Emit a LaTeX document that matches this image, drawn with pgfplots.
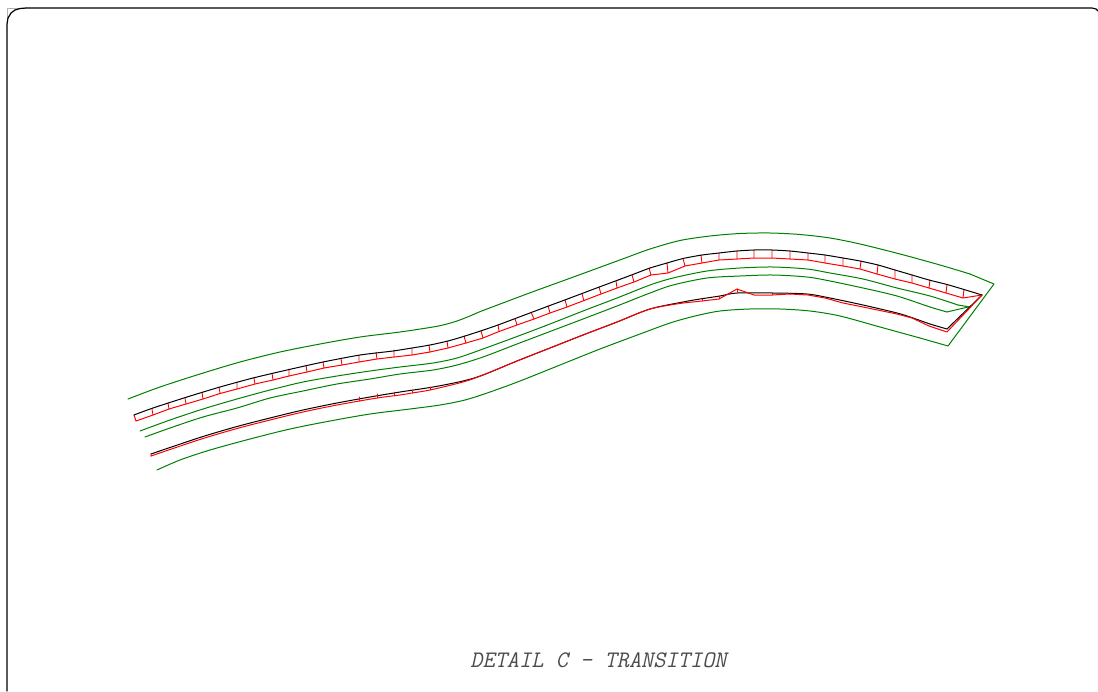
\documentclass[border=0pt]{standalone}
\usepackage{fontspec}
\newfontfamily\detailfont[FakeSlant=0.22]{Latin Modern Mono}
\usepackage{pgfplots}
\pgfplotsset{compat=1.18}
\definecolor{dgreen}{RGB}{0,128,0}
\begin{document}
\begin{tikzpicture}
\begin{axis}[
  scale only axis, width=1098pt, height=691pt,
  xmin=0, xmax=1098, ymin=0, ymax=691, y dir=reverse,
  hide axis, unbounded coords=jump,
  every axis plot/.append style={no marks, line join=round, line cap=round},
]
\path (axis cs:0,0) rectangle (axis cs:1098,691);
% frame
\addplot[gray!60, line width=0.8pt] coordinates {(7,24) (7,8) (26,8)};
\addplot[black, line width=1.2pt] coordinates {(7,691) (7,24) (8,18) (11,13) (15,10) (20,8.5) (26,8) (1092,8) (1096,9) (1098,11)};
% green outline
\addplot[dgreen, line width=1pt, smooth, tension=0.5] coordinates {
(128,399) (160,387) (200,374) (240,362) (280,352) (320,344) (360,337) (400,332) (433,327) (445,324.5) (457,321) (470,316) (483,310.5) (533,291.7) (577,275.7) (622,259.2) (650,249) (680,240.5) (710,236) (740,233.5) (770,233) (800,234.5) (830,238) (860,244) (900,254) (940,265) (970,274)};
\addplot[dgreen, line width=1pt] coordinates {(970,274) (994,284) (948,346) (920,338)};
\addplot[dgreen, line width=1pt, smooth, tension=0.5] coordinates {
(920,338) (880,327) (840,316) (810,311) (780,309) (750,309) (720,311) (695,316) (670,323) (640,334) (600,349) (560,365) (520,381) (490,392) (465,400) (440,405) (410,409) (370,414) (330,421) (290,429) (250,439) (210,450) (180,460) (157,470)};
\addplot[dgreen, line width=1pt, smooth, tension=0.5] coordinates {
(140,431) (170,420) (203,409) (237,399) (270,390) (303,382) (337,376) (370,371) (400,367) (433,363) (457,358) (483,349) (517,336.5) (550,324) (583,311) (617,298) (650,285) (673,278) (707,271) (740,268) (773,267) (807,269) (830,273) (863,279) (897,288) (930,296) (958,305)};
\addplot[dgreen, line width=1pt] coordinates {(958,305) (970,307)};
\addplot[dgreen, line width=1pt, smooth, tension=0.5] coordinates {
(145,437) (170,428) (203,417) (237,408) (270,398) (303,391) (337,384) (370,379) (400,374) (433,370) (457,365) (483,357) (517,344) (550,331.5) (583,319) (617,306) (650,293) (673,285) (707,278) (740,276) (773,275) (807,277) (830,281) (863,288) (897,296) (930,307) (947,312)};
\addplot[dgreen, line width=1pt] coordinates {(947,312) (968,307)};
% upper strip: red side and ticks
\addplot[red, line width=1pt] coordinates {
(134,415) (136,421) (153,415) (169,409) (186,404) (203,399) (220,393.5) (237,389) (255,384) (273,380) (289,376) (307,372) (324,368) (342,365) (359,362) (377,359) (394,357) (412,355) (430,352) (448,348) (466,343) (483,338) (499,331.5) (517,325) (534,319) (550,313) (567,307) (584,300.5) (601,294) (617,288) (634,282) (651,275) (668,273) (685,266) (702,263) (719,260) (737,259) (754,258) (772,258) (790,259) (808,260) (825,263) (843,266) (860,269) (877,274) (895,279) (912,283) (929,288) (946,293) (963,298) (982,295)};
\addplot[red, line width=0.9pt] coordinates {
(152,409) (153,415) (nan,nan) (168,403) (169,409) (nan,nan) (185,398) (186,404) (nan,nan) (202,392) (203,399) (nan,nan) (219,387) (220,393) (nan,nan) (237,382) (237,389) (nan,nan) (254,378) (255,384) (nan,nan) (272,373) (273,380) (nan,nan) (289,369) (289,376) (nan,nan) (306,365) (307,372) (nan,nan) (323,362) (324,368) (nan,nan) (341,358) (342,365) (nan,nan) (359,355) (359,362) (nan,nan) (376,352) (377,359) (nan,nan) (394,350) (394,357) (nan,nan) (412,348) (412,355) (nan,nan) (429,345) (430,352) (nan,nan) (447,341) (448,348) (nan,nan) (464,336) (466,343) (nan,nan) (481,331) (483,338) (nan,nan) (498,325) (499,331) (nan,nan) (515,318.6) (517,325) (nan,nan) (531,312) (534,319) (nan,nan) (548,306) (550,313) (nan,nan) (565,300) (567,307) (nan,nan) (582,293.5) (584,301) (nan,nan) (599,287) (601,294) (nan,nan) (616,281) (617,288) (nan,nan) (632,275) (634,282) (nan,nan) (649,268) (651,275) (nan,nan) (667,263) (668,273) (nan,nan) (683,258.5) (685,266) (nan,nan) (701,255) (702,263) (nan,nan) (719,253) (719,260) (nan,nan) (737,251) (737,259) (nan,nan) (754,250) (754,258) (nan,nan) (772,250) (772,258) (nan,nan) (790,251) (790,259) (nan,nan) (808,253) (808,260) (nan,nan) (825,255) (825,263) (nan,nan) (843,258) (843,266) (nan,nan) (861,261) (860,269) (nan,nan) (878,265) (877,274) (nan,nan) (895,270) (895,279) (nan,nan) (912,275) (912,283) (nan,nan) (930,280) (929,288) (nan,nan) (947,284.5) (946,293) (nan,nan) (964,289.5) (963,298)};
\addplot[black, line width=1pt, smooth, tension=0.4] coordinates {
(134,415) (153,408) (187,397) (220,387) (253,378) (287,370) (323,362) (360,355) (393,351) (412,348) (430,345) (448,341) (465,336) (482,330.5) (498,325) (515,318.6) (532,312.2) (548,306.2) (565,299.9) (582,293.5) (599,287.1) (616,280.8) (632,274.8) (650,268) (667,263) (683,258.5) (702,255) (719,253) (737,251) (754,250) (772,250) (790,251) (808,253) (825,255) (843,258) (860,261) (878,265) (895,270) (912,275) (929,280) (947,284.5) (964,289.5) (982,295)};
% lower strip
\addplot[black, line width=1pt, smooth, tension=0.5] coordinates {
(151,454) (170,447.5) (203,436.5) (237,426.5) (270,418) (303,410) (337,403) (370,397) (400,392) (433,387) (463,381) (483,375) (517,361) (550,348) (583,335) (617,322) (650,309) (683,302) (700,299) (720,296) (737,293) (773,293) (807,294) (830,298) (863,305) (897,313) (913,318) (930,324) (947,329)};
\addplot[black, line width=1pt] coordinates {(947,329) (982,295)};
\addplot[red, line width=1pt, smooth, tension=0.5] coordinates {
(151,456) (170,449.5) (203,438.5) (237,428.5) (270,420) (303,412) (337,405) (377,398) (400,395) (412,393) (430,390) (463,382) (483,375) (517,361) (550,348) (583,335) (617,322) (650,309) (683,303)};
\addplot[red, line width=1pt] coordinates {
(151,454) (151,456) (nan,nan) (683,303) (702,301) (719,299) (737,289) (754,295) (772,295) (790,294) (808,295) (825,298) (843,303) (863,307) (897,314) (912,318) (929,326) (947,332) (982,295)};
\addplot[red, line width=0.9pt] coordinates {
(359,397) (359,401) (nan,nan) (377,394) (377,398) (nan,nan) (394,392) (394,396) (nan,nan) (412,390) (412,393) (nan,nan) (430,387) (430,390) (nan,nan) (702,299) (702,301) (nan,nan) (719,296) (719,299) (nan,nan) (737,293) (737,289) (nan,nan) (772,293) (772,295) (nan,nan) (790,293) (790,294)};
\node[font=\detailfont\fontsize{23.7}{25}\selectfont, text=black!70, inner sep=0pt, anchor=center] at (axis cs:598.5,660) {DETAIL C - TRANSITION};
\end{axis}
\end{tikzpicture}
\end{document}
